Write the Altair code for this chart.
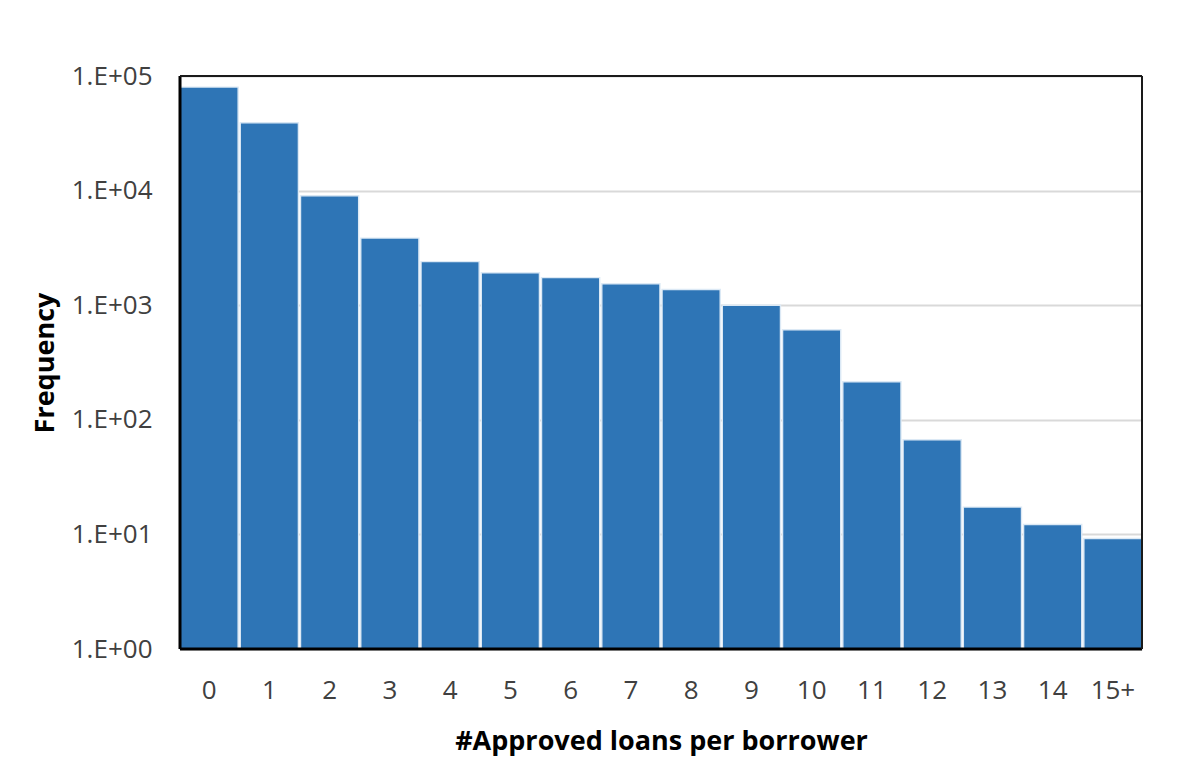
import altair as alt
import pandas as pd

categories = ["0", "1", "2", "3", "4", "5", "6", "7", "8", "9", "10", "11", "12", "13", "14", "15+"]
frequency = [80000, 39000, 9000, 3850, 2400, 1920, 1740, 1540, 1370, 1000, 610, 215, 67, 17.3, 12.2, 9.2]
y_ticks = [1, 10, 100, 1000, 10000, 100000]

df = pd.DataFrame({"loans": categories, "freq": frequency, "base": [1] * len(categories)})

FONT = "Open Sans"
W, H = 962, 573

bars = alt.Chart(df).mark_bar(
    color="#2E75B6", stroke="#DCE9F5", strokeWidth=1.4
).encode(
    x=alt.X("loans:N", sort=categories,
            scale=alt.Scale(paddingInner=0.035, paddingOuter=0),
            axis=alt.Axis(title="#Approved loans per borrower", labelAngle=0,
                          ticks=False, domain=False, labelPadding=28,
                          labelFontSize=26, labelColor="#404040", labelFont=FONT,
                          titleFontSize=27, titleFontWeight="bold", titleFont=FONT,
                          titleColor="#000000", titlePadding=25)),
    y=alt.Y("freq:Q",
            scale=alt.Scale(type="log", domain=[1, 100000], nice=False),
            axis=alt.Axis(title="Frequency", values=y_ticks,
                          labelExpr="'1.E+0' + round(log(datum.value) / LN10)",
                          ticks=False, domain=False, labelPadding=28,
                          labelFontSize=26, labelColor="#404040", labelFont=FONT,
                          grid=True, gridColor="#D9D9D9", gridWidth=2,
                          titleFontSize=27, titleFontWeight="bold", titleFont=FONT,
                          titleColor="#000000", titlePadding=12)),
    y2="base:Q",
)

one = pd.DataFrame({"k": [0]})
frame_left = alt.Chart(one).mark_rule(color="#000000", strokeWidth=3).encode(
    x=alt.value(0), y=alt.value(0), y2=alt.value(H))
frame_bottom = alt.Chart(one).mark_rule(color="#000000", strokeWidth=3).encode(
    x=alt.value(0), x2=alt.value(W), y=alt.value(H))
frame_top = alt.Chart(one).mark_rule(color="#1a1a1a", strokeWidth=2).encode(
    x=alt.value(0), x2=alt.value(W), y=alt.value(0))
frame_right = alt.Chart(one).mark_rule(color="#1a1a1a", strokeWidth=2).encode(
    x=alt.value(W), y=alt.value(0), y2=alt.value(H))

chart = alt.layer(bars, frame_left, frame_bottom, frame_top, frame_right).properties(
    width=W, height=H,
    autosize=alt.AutoSizeParams(type="none"),
    padding={"left": 172, "top": 68, "right": 40, "bottom": 110},
).configure_view(
    stroke=None
)

chart.save("out.html", embed_options={"renderer": "svg", "actions": False})
